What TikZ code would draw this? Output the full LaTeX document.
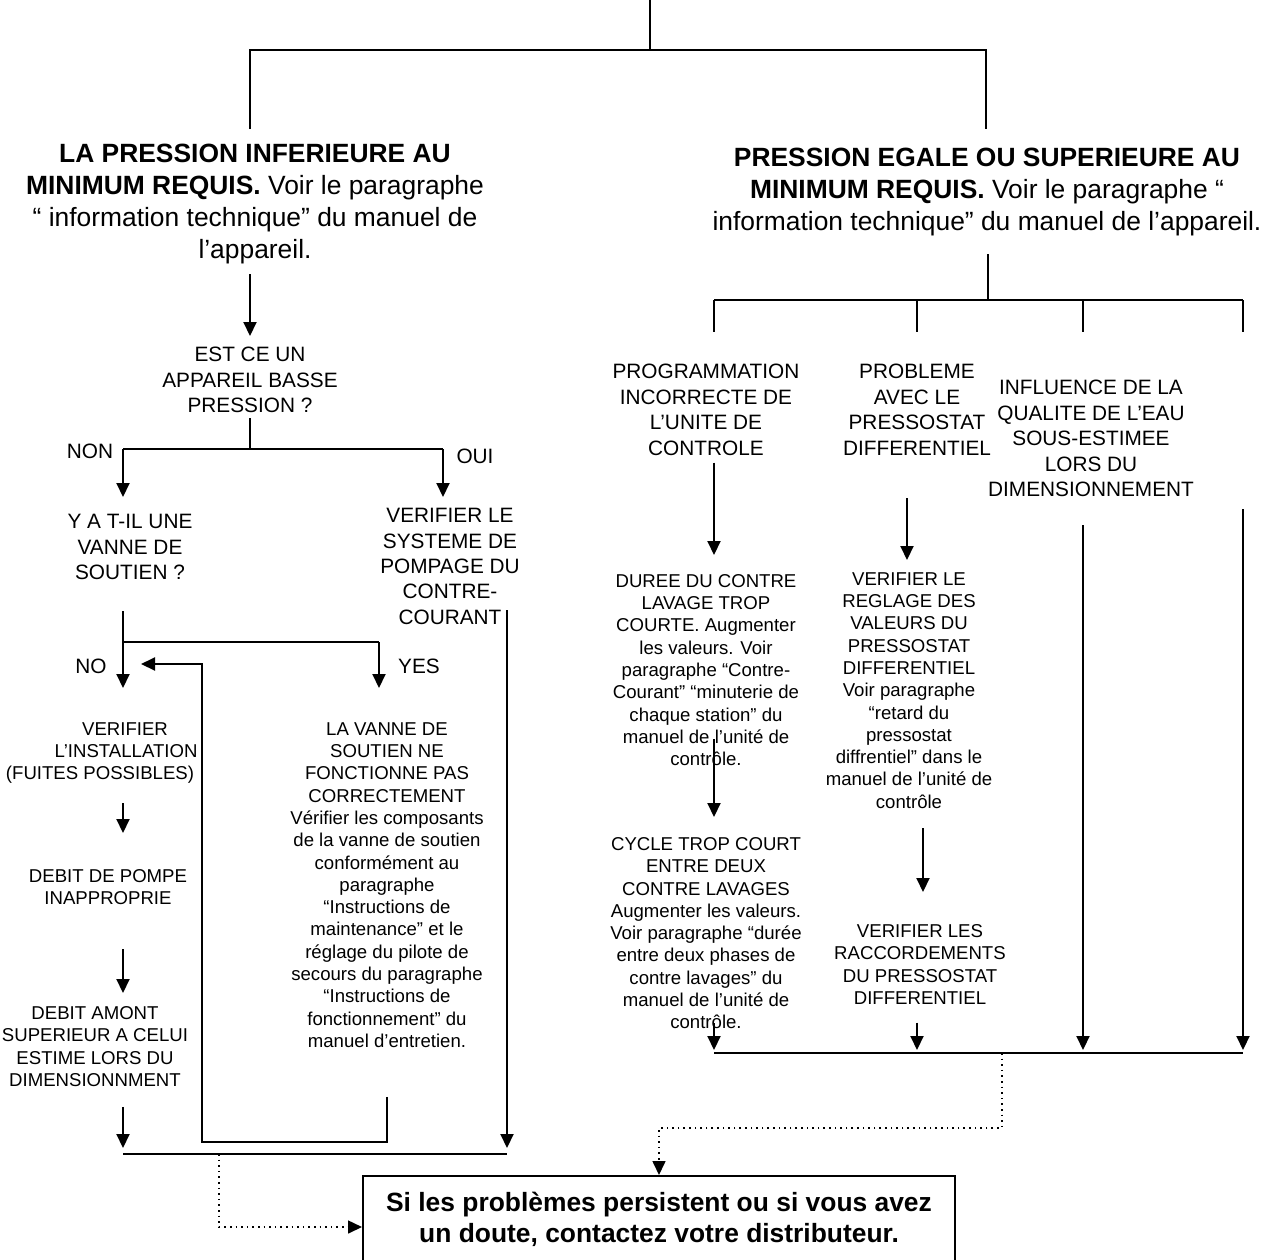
\documentclass[tikz,border=0pt]{standalone}
\usepackage{fontspec}
\setmainfont{Liberation Sans}
\usetikzlibrary{arrows.meta,calc}
\tikzset{
  txt/.style={font=\fontsize{10.4}{12.7}\selectfont, align=center, inner sep=0pt, anchor=north},
  sml/.style={font=\fontsize{9.3}{11.15}\selectfont, align=center, inner sep=0pt, anchor=north},
  ttl/.style={font=\fontsize{13.2}{16}\selectfont, align=center, inner sep=0pt, anchor=north},
  lbl/.style={font=\fontsize{10.4}{12.7}\selectfont, inner sep=0pt, anchor=base},
  fin/.style={draw, line width=1pt, font=\fontsize{13.2}{15.5}\selectfont\bfseries, align=center,
              anchor=north, minimum width=296pt, minimum height=43.5pt, inner sep=0pt},
  ln/.style={line width=1pt},
  fork/.style={line width=0.6pt},
  arr/.style={-{Triangle[length=7pt,width=6.5pt]}, line width=1pt},
  darr/.style={-{Triangle[length=7pt,width=6.5pt]}, dotted, line width=0.8pt},
}

\begin{document}
\begin{tikzpicture}[x=0.5pt, y=-0.5pt]
\useasboundingbox (0,0) rectangle (1275,1259);
\clip (0,0) rectangle (1275,1259);
% titles
\node[ttl] (ttlL) at (255,144) {\textbf{LA PRESSION INFERIEURE AU}\\\textbf{MINIMUM REQUIS.} Voir le paragraphe\\“ information technique” du manuel de\\l’appareil.};
\node[ttl] (ttlR) at (987,148) {\textbf{PRESSION EGALE OU SUPERIEURE AU}\\\textbf{MINIMUM REQUIS.} Voir le paragraphe “\\information technique” du manuel de l’appareil.};
% left branch
\node[txt] (q1)  at (250,347) {EST CE UN\\APPAREIL BASSE\\PRESSION ?};
\node[txt] (q2)  at (130,514) {Y A T-IL UNE\\VANNE DE\\SOUTIEN ?};
\node[txt] (chk) at (450,508) {VERIFIER LE\\SYSTEME DE\\POMPAGE DU\\CONTRE-\\COURANT};
\node[sml] (inst) at (100,722) {\hspace*{25pt}VERIFIER\\\hspace*{26pt}L’INSTALLATION\\(FUITES POSSIBLES)};
\node[sml] (pump) at (108,869) {DEBIT DE POMPE\\INAPPROPRIE};
\node[sml] (flow) at (95,1006) {DEBIT AMONT\\SUPERIEUR A CELUI\\ESTIME LORS DU\\DIMENSIONNMENT};
\node[sml] (valve) at (387,722) {LA VANNE DE\\SOUTIEN NE\\FONCTIONNE PAS\\CORRECTEMENT\\Vérifier les composants\\de la vanne de soutien\\conformément au\\paragraphe\\“Instructions de\\maintenance” et le\\réglage du pilote de\\secours du paragraphe\\“Instructions de\\fonctionnement” du\\manuel d’entretien.};
\node[lbl] (non) at (90,458) {NON};
\node[lbl] (oui) at (475,463) {OUI};
\node[lbl] (no)  at (91,673) {NO};
\node[lbl] (yes) at (419,673) {YES};
% right branch
\node[txt] (prog)  at (706,364) {PROGRAMMATION\\INCORRECTE DE\\L’UNITE DE\\CONTROLE};
\node[txt] (pdiff) at (917,364) {PROBLEME\\AVEC LE\\PRESSOSTAT\\DIFFERENTIEL};
\node[txt] (water) at (1091,380) {INFLUENCE DE LA\\QUALITE DE L’EAU\\SOUS-ESTIMEE\\LORS DU\\DIMENSIONNEMENT};
\node[sml] (dur)  at (706,574) {DUREE DU CONTRE\\LAVAGE TROP\\COURTE. Augmenter\\les valeurs. Voir\\paragraphe “Contre-\\Courant” “minuterie de\\chaque station” du\\manuel de l’unité de\\contrôle.};
\node[sml] (setp) at (909,572) {VERIFIER LE\\REGLAGE DES\\VALEURS DU\\PRESSOSTAT\\DIFFERENTIEL\\Voir paragraphe\\“retard du\\pressostat\\diffrentiel” dans le\\manuel de l’unité de\\contrôle};
\node[sml] (cyc)  at (706,837) {CYCLE TROP COURT\\ENTRE DEUX\\CONTRE LAVAGES\\Augmenter les valeurs.\\Voir paragraphe “durée\\entre deux phases de\\contre lavages” du\\manuel de l’unité de\\contrôle.};
\node[sml] (conn) at (920,924) {VERIFIER LES\\RACCORDEMENTS\\DU PRESSOSTAT\\DIFFERENTIEL};
% final advice
\node[fin] (fin) at (659,1175) {Si les problèmes persistent ou si vous avez\\un doute, contactez votre distributeur.};

% junctions
\coordinate (root) at (650,0);
\coordinate (jTop) at (650,50);
\coordinate (tL) at (250,129);
\coordinate (tR) at (986,129);
\coordinate (a1) at (250,274);
\coordinate (jnon) at (123,449);
\coordinate (joui) at (443,449);
\coordinate (jq2) at (123,642);
\coordinate (jyes) at (379,642);
\coordinate (jchk) at (507,610);
\coordinate (loopB) at (202,1142);
\coordinate (loopE) at (141,664);
\coordinate (lowL) at (123,1154);
\coordinate (lowR) at (507,1154);
\coordinate (dL) at (219,1154);
\coordinate (jR) at (988,300);
\coordinate (r1) at (714,300);
\coordinate (r2) at (917,300);
\coordinate (r3) at (1083,300);
\coordinate (r4) at (1243,300);
\coordinate (p1) at (907,498);
\coordinate (d1) at (714,739);
\coordinate (s1) at (923,828);
\coordinate (c1) at (714,1023);
\coordinate (b1) at (714,1053);
\coordinate (b2) at (917,1053);
\coordinate (b3) at (1083,1053);
\coordinate (b4) at (1243,1053);
\coordinate (dR) at (1002,1053);

% top fork
\draw[ln] (root) -- (jTop);
\draw[ln] (tL) |- (jTop) -| (tR);
% left side
\draw[arr, shorten >=5.5pt] (a1) -- (a1 |- q1.north);
\draw[fork, shorten <=2.5pt] (q1.south) -- (q1.south |- jnon);
\draw[fork] (jnon) -- (joui);
\draw[arr, shorten >=8.5pt] (jnon) -- (jnon |- q2.north);
\draw[arr, shorten >=5.5pt] (joui) -- (joui |- chk.north);
\draw[fork, shorten <=15.5pt] (q2.south -| jq2) -- (jq2) -- (jyes);
\draw[arr, shorten >=17pt] (jq2) -- (jq2 |- inst.north);
\draw[arr, shorten >=17pt] (jyes) -- (jyes |- valve.north);
\draw[arr, shorten <=9.5pt, shorten >=18pt] (inst.south -| jq2) -- (pump.north -| jq2);
\draw[arr, shorten <=22pt, shorten >=6.5pt] (pump.south -| jq2) -- (flow.north -| jq2);
\draw[arr, shorten <=10pt, shorten >=3pt] (flow.south -| jq2) -- (lowL);
\draw[arr, shorten >=3pt] (jchk) -- (lowR);
\draw[arr, shorten <=24.5pt] (valve.south) |- (loopB) |- (loopE);
\draw[ln] (lowL) -- (lowR);
\draw[darr] (dL) |- ([yshift=-3.75pt]fin.west);
% right side
\draw[ln, shorten <=8.75pt] (ttlR.south -| jR) -- (jR);
\draw[ln] (r1) -- (r4);
\foreach \c in {r1,r2,r3,r4} \draw[ln] (\c) -- ++(0,32);
\draw[arr, shorten <=3.5pt, shorten >=9.5pt] (prog.south -| r1) -- (dur.north -| r1);
\draw[arr, shorten >=6pt] (p1) -- (p1 |- setp.north);
\draw[arr, shorten <=14pt, shorten >=1.5pt] (water.south -| b3) -- (b3);
\draw[arr, shorten <=6pt, shorten >=1.5pt] (water.south -| b4) -- (b4);
\draw[arr, shorten >=10pt] (d1) -- (d1 |- cyc.north);
\draw[arr, shorten >=16pt] (s1) -- (s1 |- conn.north);
\draw[arr, shorten >=1.5pt] (c1) -- (b1);
\draw[arr, shorten <=9pt, shorten >=1.5pt] (conn.south -| b2) -- (b2);
\draw[ln] (b1) -- (b4);
\draw[darr] (dR) -- ++(0,75) -| (fin.north);
\end{tikzpicture}
\end{document}
